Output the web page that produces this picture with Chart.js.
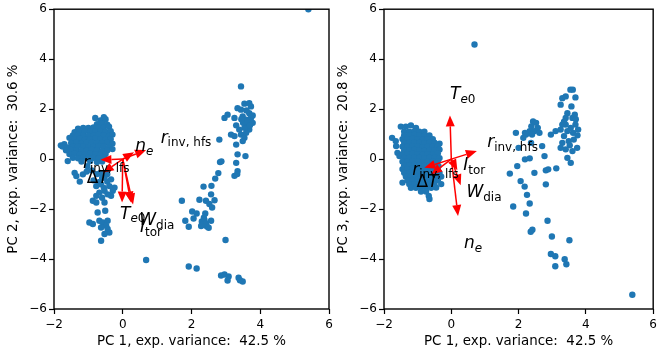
<!DOCTYPE html>
<html lang="en">
<head>
<meta charset="UTF-8">
<title>PCA biplots</title>
<script src="https://cdn.jsdelivr.net/npm/chart.js@4.4.0/dist/chart.umd.min.js"></script>
<style>
  body { margin: 0; background: #fff; }
  #wrap { position: relative; width: 661px; height: 358px; overflow: hidden; }
  #left { position: absolute; left: 0; top: 0; }
  #right { position: absolute; left: 330px; top: 0; }
</style>
</head>
<body>
<div id="wrap">
  <canvas id="left" width="350" height="358"></canvas>
  <canvas id="right" width="331" height="358"></canvas>
</div>

<script>
// PC scores ([PC1, PC2] on the left, [PC1, PC3] on the right)
const scoresPC12 = [
  // dense cluster
  [-0.8,1.65],[-0.55,1.68],[-0.65,1.55],[-0.5,1.6],
  [-0.75,1.4],[-0.6,1.42],[-0.45,1.38],
  [-1.3,1.22],[-1.15,1.25],[-1.0,1.25],[-0.85,1.27],[-0.7,1.25],[-0.55,1.28],[-0.4,1.3],
  [-1.4,1.08],[-1.25,1.1],[-1.1,1.12],[-0.95,1.1],[-0.8,1.1],[-0.65,1.12],[-0.5,1.1],[-0.35,1.12],
  [-1.45,0.95],[-1.3,0.97],[-1.15,0.95],[-1.0,0.93],[-0.85,0.95],[-0.7,0.97],[-0.55,0.95],[-0.4,0.93],[-0.3,0.98],
  [-1.55,0.85],[-1.4,0.8],[-1.25,0.82],[-1.1,0.78],[-0.95,0.8],[-0.8,0.82],[-0.65,0.8],[-0.5,0.78],[-0.35,0.8],
  [-1.5,0.65],[-1.35,0.67],[-1.2,0.63],[-1.05,0.65],[-0.9,0.66],[-0.75,0.64],[-0.6,0.65],[-0.45,0.66],[-0.3,0.62],
  [-1.8,0.55],[-1.7,0.6],[-1.75,0.5],[-1.6,0.47],[-1.45,0.5],[-1.3,0.52],[-1.15,0.5],[-1.0,0.48],[-0.85,0.5],[-0.7,0.52],[-0.55,0.5],[-0.4,0.47],
  [-1.65,0.35],[-1.5,0.37],[-1.35,0.35],[-1.2,0.33],[-1.05,0.35],[-0.9,0.37],[-0.75,0.35],[-0.6,0.33],[-0.45,0.35],[-0.3,0.4],
  [-1.55,0.2],[-1.4,0.22],[-1.25,0.18],[-1.1,0.2],[-0.95,0.22],[-0.8,0.2],[-0.65,0.18],[-0.5,0.2],
  [-1.6,-0.08],[-1.45,0.05],[-1.3,0.03],[-1.15,0.05],[-1.0,0.07],[-0.85,0.05],[-0.7,0.03],[-0.55,0.06],
  [-1.2,-0.1],[-1.03,-0.28],[-0.95,-0.08],[-0.75,-0.12],[-0.6,-0.1],
  // lower tail
  [-1.4,-0.55],[-1.35,-0.68],[-1.16,-0.61],[-1.25,-0.9],[-1.05,-0.5],[-0.9,-0.45],[-0.75,-0.6],[-0.6,-0.75],
  [-0.53,-0.74],[-0.34,-0.81],[-0.85,-0.85],[-0.7,-0.92],[-0.45,-0.9],[-0.24,-1.14],[-0.77,-1.08],[-0.63,-1.01],
  [-0.39,-1.08],[-0.29,-1.27],[-0.34,-1.47],[-0.44,-1.41],[-0.53,-1.27],[-0.68,-1.34],[-0.77,-1.47],[-0.87,-1.67],
  [-0.77,-1.74],[-0.53,-1.74],[-0.6,-1.55],[-0.73,-2.14],[-0.51,-2.07],[-0.97,-2.54],[-0.87,-2.6],[-0.68,-2.47],
  [-0.58,-2.54],[-0.44,-2.47],[-0.48,-2.67],[-0.63,-2.74],[-0.44,-2.8],[-0.39,-2.94],[-0.53,-3.0],[-0.63,-3.27],
  [-0.55,-1.15],[-0.45,-0.6],[-0.65,-0.55],
  // right-hand group
  [3.44,2.91],[3.54,2.22],[3.68,2.24],[3.73,2.11],[3.34,2.04],[3.44,1.98],[2.96,1.65],[3.05,1.78],[3.25,1.65],
  [3.49,1.71],[3.59,1.58],[3.68,1.84],[3.73,1.65],[3.78,1.45],[3.63,1.31],[3.68,1.18],[3.54,1.25],[3.39,1.18],
  [3.15,0.98],[3.25,0.92],[3.44,0.98],[3.54,0.85],[3.59,1.05],[2.81,0.78],[3.3,0.58],[3.49,0.72],[3.34,0.19],
  [3.57,0.12],[2.83,-0.12],[2.87,-0.09],[3.3,-0.15],[3.34,-0.48],[3.6,1.95],[3.78,1.75],[3.5,1.45],[3.62,1.5],
  [3.3,1.35],[3.7,1.35],[3.45,1.6],
  [1.72,-1.67],[2.23,-1.63],[2.42,-1.67],[2.67,-1.65],[2.52,-1.8],[2.6,-1.94],[2.02,-2.1],[2.15,-2.18],[2.4,-2.18],
  [1.82,-2.47],[1.92,-2.71],[2.06,-2.38],[2.3,-2.5],[2.38,-2.45],[2.33,-2.62],[2.45,-2.7],[2.42,-2.58],[2.36,-2.35],
  [2.28,-2.68],[2.5,-2.75],[2.57,-2.47],[2.35,-1.1],[2.58,-1.07],[2.69,-0.78],[2.57,-1.41],[2.78,-0.56],[3.25,-0.67],
  [3.33,-0.6],
  // outliers
  [5.4,6.0],[0.68,-4.04],[2.99,-3.24],[1.92,-4.3],[2.15,-4.38],[2.86,-4.66],[2.96,-4.62],[3.08,-4.7],[3.05,-4.86],
  [3.37,-4.75],[3.49,-4.9],[3.41,-4.85]
];

const scoresPC13 = [
  // dense cluster
  [-1.76,0.85],[-1.65,0.72],[-1.64,0.52],[-1.6,0.25],[-1.54,0.12],
  [-1.5,1.3],[-1.35,1.3],[-1.2,1.35],[-1.05,1.25],
  [-1.4,1.1],[-1.25,1.1],[-1.1,1.12],[-0.95,1.1],[-0.8,1.1],
  [-1.4,0.95],[-1.25,0.95],[-1.1,0.97],[-0.95,0.95],[-0.8,0.93],[-0.65,0.95],
  [-1.45,0.8],[-1.3,0.8],[-1.15,0.82],[-1.0,0.8],[-0.85,0.78],[-0.7,0.8],[-0.55,0.8],
  [-1.4,0.65],[-1.25,0.65],[-1.1,0.67],[-0.95,0.65],[-0.8,0.63],[-0.65,0.65],[-0.5,0.66],[-0.35,0.62],
  [-1.45,0.5],[-1.3,0.5],[-1.15,0.52],[-1.0,0.5],[-0.85,0.48],[-0.7,0.5],[-0.55,0.5],[-0.4,0.52],
  [-1.4,0.35],[-1.25,0.35],[-1.1,0.37],[-0.95,0.35],[-0.8,0.33],[-0.65,0.35],[-0.5,0.36],[-0.35,0.38],
  [-1.45,0.2],[-1.3,0.2],[-1.15,0.22],[-1.0,0.2],[-0.85,0.18],[-0.7,0.2],[-0.55,0.2],[-0.4,0.22],
  [-1.4,0.05],[-1.25,0.05],[-1.1,0.07],[-0.95,0.05],[-0.8,0.03],[-0.65,0.05],[-0.5,0.06],[-0.35,0.04],
  [-1.45,-0.1],[-1.3,-0.1],[-1.15,-0.08],[-1.0,-0.1],[-0.85,-0.12],[-0.7,-0.1],[-0.55,-0.1],[-0.4,-0.08],
  [-1.4,-0.25],[-1.25,-0.25],[-1.1,-0.23],[-0.95,-0.25],[-0.8,-0.27],[-0.65,-0.25],[-0.5,-0.25],[-0.38,-0.28],
  [-1.45,-0.4],[-1.3,-0.4],[-1.15,-0.38],[-1.0,-0.4],[-0.85,-0.42],[-0.7,-0.4],[-0.55,-0.4],[-0.4,-0.42],
  [-1.4,-0.55],[-1.25,-0.55],[-1.1,-0.53],[-0.95,-0.55],[-0.8,-0.57],[-0.65,-0.55],[-0.5,-0.55],[-0.35,-0.55],
  [-1.35,-0.7],[-1.2,-0.7],[-1.05,-0.68],[-0.9,-0.7],[-0.75,-0.72],[-0.6,-0.7],[-0.45,-0.7],[-0.3,-0.7],
  [-1.45,-0.94],[-1.3,-0.85],[-1.15,-0.85],[-1.0,-0.83],[-0.85,-0.85],[-0.7,-0.87],[-0.55,-0.85],[-0.4,-0.85],
  [-1.25,-1.0],[-1.1,-1.0],[-0.95,-1.02],[-0.8,-1.0],[-0.65,-1.0],[-0.5,-1.02],[-0.3,-1.0],
  [-1.2,-1.15],[-1.05,-1.15],[-0.9,-1.13],[-0.75,-1.15],[-0.6,-1.15],[-0.45,-1.14],
  [-0.9,-1.3],[-0.75,-1.3],[-0.67,-1.47],[-0.65,-1.6],
  // right-hand group
  [3.54,2.78],[3.61,2.78],[3.3,2.44],[3.4,2.51],[3.69,2.47],[3.25,2.18],[3.57,2.11],[3.45,1.84],[3.67,1.78],
  [3.6,1.65],[3.4,1.65],[3.69,1.38],[3.55,1.25],[3.4,1.38],[3.77,1.18],[3.62,1.05],[3.3,1.38],[3.25,1.18],
  [3.45,1.12],[2.96,0.98],[3.1,1.12],[3.35,0.92],[3.49,0.72],[3.64,0.78],[3.3,0.65],[3.74,0.45],[3.6,0.32],
  [3.4,0.39],[3.25,0.45],[3.45,0.05],[3.55,-0.15],[3.75,0.95],[3.52,0.55],[3.7,1.6],[3.35,1.5],
  [2.43,1.51],[2.52,1.45],[2.57,1.25],[2.47,1.12],[2.38,1.31],[2.33,1.12],[2.19,1.05],[2.62,1.05],[2.4,0.98],
  [1.92,1.05],[2.22,0.98],[2.14,0.85],[2.7,0.52],[2.37,0.65],[2.19,-0.01],[2.33,0.03],[2.77,0.12],[1.96,-0.28],
  [1.74,-0.58],[2.06,-0.88],[2.47,-0.55],[2.81,-0.45],[2.88,-0.41],[3.12,-0.37],[2.18,-1.1],[2.25,-1.43],[1.84,-1.9],
  [2.33,-1.78],[2.22,-2.18],[2.81,-1.01],[2.86,-2.47],[2.36,-2.91],[2.41,-2.83],[2.99,-3.1],[3.51,-3.25],[2.96,-3.8],
  [3.09,-3.89],[3.09,-4.29],[3.37,-4.01],[3.42,-4.21],[2.0,0.45],
  // outliers
  [0.69,4.59],[5.38,-5.43]
];

// loading vectors: name parts ('i' italic, 'n' upright, 's' subscript, 'si' italic subscript)
const features = [
  [['T','i'],['e','si'],['0','s']],
  [['n','i'],['e','si']],
  [['W','i'],['dia','s']],
  [['I','i'],['tor','s']],
  [['r','i'],['inv, hfs','s']],
  [['r','i'],['inv, lfs','s']],
  [['\u0394','n'],['T','i']]
];
const tipsPC12   = [[-0.02,-1.74],[0.68,0.36],[0.24,-1.74],[0.3,-1.82],[0.33,0.27],[-0.65,-0.03],[-0.58,-0.55]];
const labelsPC12 = [[0.29,-2.14],[0.63,0.56],[0.99,-2.4],[0.82,-2.67],[1.84,0.9],[-0.48,-0.12],[-0.73,-0.7]];
const tipsPC13   = [[-0.04,1.75],[0.2,-2.28],[0.28,-1.05],[0.18,-0.45],[0.76,0.32],[-0.8,-0.35],[-0.6,-0.62]];
const labelsPC13 = [[0.34,2.64],[0.65,-3.33],[0.97,-1.27],[0.68,-0.21],[1.82,0.72],[-0.47,-0.38],[-0.71,-0.86]];

const xTitle = 'PC 1, exp. variance:  42.5 %';
const yTitles = ['PC 2, exp. variance:  30.6 %', 'PC 3, exp. variance:  20.8 %'];

Chart.defaults.font.family = '"DejaVu Sans", sans-serif';
Chart.defaults.color = '#000';

const MAIN = 17, SUB = 12;

function drawLabel(ctx, px, py, parts) {
  const fontOf = k => (k === 'i' || k === 'si' ? 'italic ' : '') + (k[0] === 's' ? SUB : MAIN) + 'px "DejaVu Sans"';
  let w = 0;
  parts.forEach(([t, k]) => { ctx.font = fontOf(k); w += ctx.measureText(t).width; });
  let cx = px - w / 2;
  const base = py + MAIN * 0.36;
  parts.forEach(([t, k]) => {
    ctx.font = fontOf(k);
    ctx.fillText(t, cx, k[0] === 's' ? base + MAIN * 0.22 : base);
    cx += ctx.measureText(t).width;
  });
}

function drawArrow(ctx, x0, y0, x1, y1) {
  const a = Math.atan2(y1 - y0, x1 - x0);
  const hl = 11, hw = 4.5;
  const bx = x1 - hl * Math.cos(a), by = y1 - hl * Math.sin(a);
  ctx.beginPath(); ctx.moveTo(x0, y0); ctx.lineTo(bx, by); ctx.stroke();
  ctx.beginPath();
  ctx.moveTo(x1, y1);
  ctx.lineTo(bx + hw * Math.sin(a), by - hw * Math.cos(a));
  ctx.lineTo(bx - hw * Math.sin(a), by + hw * Math.cos(a));
  ctx.closePath(); ctx.fill();
}

const biplot = {
  id: 'biplot',
  afterDatasetsDraw(chart, args, opts) {
    const { ctx, chartArea: ca, scales: { x, y } } = chart;
    ctx.save();
    ctx.strokeStyle = '#ff0000'; ctx.fillStyle = '#ff0000'; ctx.lineWidth = 1.5;
    opts.tips.forEach(([tx, ty]) => {
      drawArrow(ctx, x.getPixelForValue(0), y.getPixelForValue(0), x.getPixelForValue(tx), y.getPixelForValue(ty));
    });
    ctx.fillStyle = '#000'; ctx.textBaseline = 'alphabetic'; ctx.textAlign = 'left';
    opts.labels.forEach(([lx, ly], i) => drawLabel(ctx, x.getPixelForValue(lx), y.getPixelForValue(ly), features[i]));
    // axes frame
    ctx.strokeStyle = '#000'; ctx.lineWidth = 1.4;
    ctx.strokeRect(ca.left, ca.top, ca.right - ca.left, ca.bottom - ca.top);
    ctx.restore();
  }
};

const fmt = v => (v < 0 ? '\u2212' + Math.abs(v) : String(v));

function makeBiplot(id, scores, tips, labels, yTitle, rightPad) {
  new Chart(document.getElementById(id), {
    type: 'scatter',
    data: {
      datasets: [{
        data: scores.map(([a, b]) => ({ x: a, y: b })),
        backgroundColor: '#1f77b4',
        borderWidth: 0,
        pointRadius: 3.2,
        pointHoverRadius: 3.2
      }]
    },
    options: {
      responsive: false,
      animation: false,
      events: [],
      layout: { autoPadding: false, padding: { top: 8, right: rightPad, left: 0, bottom: 0 } },
      scales: {
        x: {
          min: -2, max: 6,
          afterFit: s => { s.height = 49; },
          ticks: { stepSize: 2, callback: fmt, font: { size: 12 }, padding: 4, maxRotation: 0 },
          grid: { drawOnChartArea: false, tickLength: 5, tickColor: '#000', tickWidth: 1.2 },
          border: { display: false },
          title: { display: true, text: xTitle, font: { size: 13.4 }, padding: { top: 0, bottom: 8 } }
        },
        y: {
          min: -6, max: 6,
          afterFit: s => { s.width = 54; },
          ticks: { stepSize: 2, callback: fmt, font: { size: 12 }, padding: 2 },
          grid: { drawOnChartArea: false, tickLength: 5, tickColor: '#000', tickWidth: 1.2 },
          border: { display: false },
          title: { display: true, text: yTitle, font: { size: 13.4 }, padding: { top: 5, bottom: 0 } }
        }
      },
      plugins: {
        legend: { display: false },
        tooltip: { enabled: false },
        biplot: { tips: tips, labels: labels }
      }
    },
    plugins: [biplot]
  });
}

makeBiplot('left', scoresPC12, tipsPC12, labelsPC12, yTitles[0], 21);
makeBiplot('right', scoresPC13, tipsPC13, labelsPC13, yTitles[1], 2);
</script>
</body>
</html>
